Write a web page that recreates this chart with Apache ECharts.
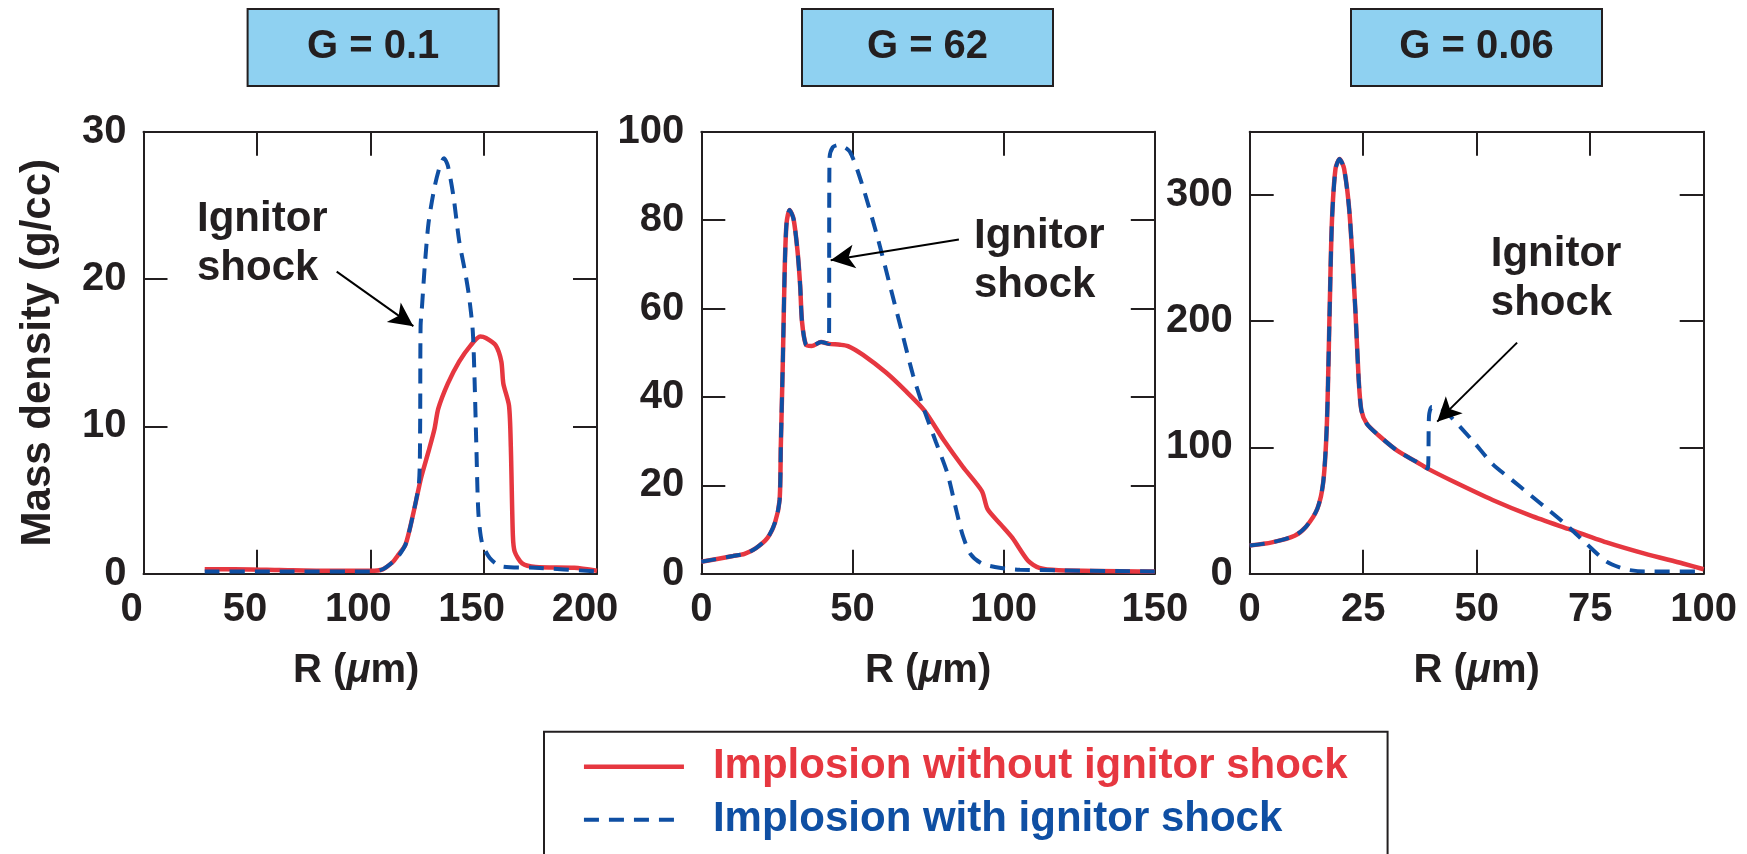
<!DOCTYPE html>
<html>
<head>
<meta charset="utf-8">
<script src="https://cdn.jsdelivr.net/npm/echarts@6/dist/echarts.min.js"></script>
<style>
html,body{margin:0;padding:0;background:#fff;}
#c{width:1747px;height:854px;}
</style>
</head>
<body>
<div id="c"></div>
<script>
// ---------- data ----------
const panelTitles = ['G = 0.1', 'G = 62', 'G = 0.06'];
const seriesNames = ['Implosion without ignitor shock', 'Implosion with ignitor shock'];
const xAxisTitle = 'R ({i|μ}m)';
const yAxisTitle = 'Mass density (g/cc)';
const annotationText = 'Ignitor\nshock';

// Panel 1 (G = 0.1)
const r1Red = [27, 40, 60, 80, 100, 105.5, 110, 112, 115.6, 119, 122.4, 125.7, 128.3, 130, 134.2, 139.2, 144.3, 148.5, 151, 155.3, 157.8, 158.7, 161.2, 162, 162.9, 163.7, 167, 173, 190, 200];
const d1Red = [0.3, 0.3, 0.25, 0.2, 0.2, 0.3, 0.8, 1.2, 2.0, 4.1, 6.5, 8.3, 9.8, 11.2, 12.9, 14.4, 15.5, 16.1, 16.0, 15.5, 14.4, 12.9, 11.4, 8.6, 2.6, 1.5, 0.7, 0.45, 0.4, 0.2];
const r1Blue = [27, 60, 100, 105.5, 110, 112, 115.6, 119, 121.5, 122.0, 122.2, 122.9, 124, 125.7, 128.3, 130.8, 132.5, 134.2, 136.7, 139.2, 141.8, 143.5, 145.2, 146, 146.8, 147.7, 149.3, 152.7, 157.8, 173, 200];
const d1Blue = [0.15, 0.15, 0.15, 0.3, 0.8, 1.1, 2.0, 4.1, 6.2, 10, 16.8, 18.3, 20.8, 23.8, 26.2, 27.7, 28.2, 27.7, 25.6, 22.6, 20.5, 18.9, 16.5, 13.2, 8.6, 4.1, 2.1, 1.06, 0.5, 0.4, 0.15];

// Panel 2 (G = 62)
const r2Red = [0, 10.5, 14.3, 18.1, 21.9, 24.4, 25.9, 26.3, 27, 27.6, 28.2, 29.2, 30.5, 31.8, 32.7, 33.3, 34.6, 36.5, 39.6, 42.2, 45.9, 48.5, 53.5, 61.1, 67.5, 73.8, 80.1, 86.5, 92.8, 94.7, 99.1, 102.9, 108, 111.8, 118.1, 150];
const d2Red = [2.7, 4.0, 4.5, 5.8, 8.1, 11.6, 16.7, 28.8, 49, 69.2, 79.3, 82.3, 80.3, 73.2, 65.2, 57.1, 51.8, 51.5, 52.4, 52, 51.8, 51.5, 49.5, 45.5, 41.4, 36.9, 30.3, 24.2, 18.7, 14.6, 11.1, 8.1, 3.0, 1.3, 0.8, 0.5];
const r2Blue = [0, 10.5, 14.3, 18.1, 21.9, 24.4, 25.9, 26.3, 27, 27.6, 28.2, 29.2, 30.5, 31.8, 32.7, 33.3, 34.6, 36.5, 39.6, 42.2, 42.4, 43.5, 45.3, 49.1, 53.5, 58.6, 62.4, 66.2, 70, 73.8, 77.6, 81.4, 84.6, 86.5, 89, 92.8, 99.1, 105.4, 150];
const d2Blue = [2.7, 4.0, 4.5, 5.8, 8.1, 11.6, 16.7, 28.8, 49, 69.2, 79.3, 82.3, 80.3, 73.2, 65.2, 57.1, 51.8, 51.5, 52.4, 52, 94, 96.5, 97, 95.5, 87.4, 75.3, 65.2, 55.1, 45, 36.9, 29.8, 22.7, 13.6, 8.6, 4.5, 2.3, 1.3, 0.9, 0.5];

// Panel 3 (G = 0.06)
const r3Red = [0, 4.9, 9.9, 12.4, 14.9, 16.2, 17, 17.6, 18.1, 18.9, 19.8, 20.8, 22, 23.3, 24, 24.6, 25.8, 28.3, 32.5, 36.7, 39.2, 45.1, 53.5, 61.9, 70.2, 78.6, 87, 95.4, 100];
const d3Red = [22.3, 24.8, 30.1, 37.2, 51.4, 72.6, 118.7, 207, 278, 320.6, 328.4, 320.6, 285, 207, 154, 129.3, 118.7, 109.8, 97.4, 88.6, 83.2, 72.6, 58.4, 46, 35.4, 24.8, 15.9, 8.1, 3.5];
const r3Blue = [0, 4.9, 9.9, 12.4, 14.9, 16.2, 17, 17.6, 18.1, 18.9, 19.8, 20.8, 22, 23.3, 24, 24.6, 25.8, 28.3, 32.5, 36.7, 39.2, 39.5, 40.1, 41.7, 43.4, 49.3, 53.5, 57.7, 61.9, 66.1, 70.2, 74.4, 78.6, 82.8, 87, 100];
const d3Blue = [22.3, 24.8, 30.1, 37.2, 51.4, 72.6, 118.7, 207, 278, 320.6, 328.4, 320.6, 285, 207, 154, 129.3, 118.7, 109.8, 97.4, 88.6, 83.2, 125, 132, 131, 127.5, 104.5, 86.8, 74.4, 62, 49.6, 37.2, 23, 9.6, 3.5, 1.8, 1.8];

// Axis ranges / ticks
const xMin = [0, 0, 0];
const xMax = [200, 150, 100];
const xStep = [50, 50, 25];
const yMin = [0, 0, 0];
const yMax = [30, 100, 350];
const yStep = [10, 20, 100];

// Annotation anchors (data coords): text top-left, arrow tail, arrow tip
const noteText = [[23.6, 25.7], [90.2, 81.8], [53.1, 272]];
const arrowTail = [[85.2, 20.5], [85.2, 75.6], [58.9, 183]];
const arrowTip = [[119, 16.8], [42.8, 70.9], [41.3, 120.4]];

// ---------- styles ----------
const FONT = "'Liberation Sans', Arial, Helvetica, sans-serif";
const INK = '#231f20';
const RED = '#e63740';
const BLUE = '#0f4fa3';
const TITLE_BG = '#8fd1f1';

const gridPos = [
  {left: 143.5, top: 131.7, width: 453.5, height: 442},
  {left: 701.3, top: 131.7, width: 453.5, height: 442},
  {left: 1249.7, top: 131.7, width: 454, height: 442}
];
const titleLeft = [247.6, 802, 1351];

const zip = (a, b) => a.map((v, i) => [v, b[i]]);
const redData = [zip(r1Red, d1Red), zip(r2Red, d2Red), zip(r3Red, d3Red)];
const blueData = [zip(r1Blue, d1Blue), zip(r2Blue, d2Blue), zip(r3Blue, d3Blue)];

const axisLine = {show: true, onZero: false, lineStyle: {color: INK, width: 2}};
const axisTick = {show: true, inside: true, length: 24, lineStyle: {color: INK, width: 2}};
const labelStyle = {fontFamily: FONT, fontSize: 40, fontWeight: 'bold', color: INK};

const grids = [], xAxes = [], yAxes = [], series = [], titles = [];
for (let p = 0; p < 3; p++) {
  grids.push(Object.assign({show: false, outerBoundsMode: 'none', containLabel: false}, gridPos[p]));
  titles.push({
    text: '{b|' + panelTitles[p] + '}',
    left: titleLeft[p], top: 8.9, padding: 0,
    backgroundColor: TITLE_BG, borderColor: INK, borderWidth: 2,
    textStyle: {rich: {b: {width: 251, height: 77, lineHeight: 77, align: 'center', verticalAlign: 'middle',
      fontFamily: FONT, fontSize: 40, fontWeight: 'bold', color: INK}}}
  });
  // bottom x axis
  xAxes.push({
    type: 'value', gridIndex: p, position: 'bottom', min: xMin[p], max: xMax[p], interval: xStep[p],
    axisLine, axisTick, splitLine: {show: false},
    axisLabel: Object.assign({margin: 16, padding: p === 0 ? [0, 24, 0, 0] : 0}, labelStyle),
    name: xAxisTitle, nameLocation: 'middle', nameGap: 77,
    nameTextStyle: Object.assign({padding: p === 0 ? [0, 28, 0, 0] : 0,
      rich: {i: {fontFamily: FONT, fontSize: 40, fontWeight: 'bold', fontStyle: 'italic', color: INK}}}, labelStyle)
  });
  // top x axis (frame + ticks)
  xAxes.push({
    type: 'value', gridIndex: p, position: 'top', min: xMin[p], max: xMax[p], interval: xStep[p],
    axisLine, axisTick, splitLine: {show: false}, axisLabel: {show: false}
  });
  // left y axis
  yAxes.push({
    type: 'value', gridIndex: p, position: 'left', min: yMin[p], max: yMax[p], interval: yStep[p],
    axisLine, axisTick, splitLine: {show: false},
    axisLabel: Object.assign({margin: 17, showMaxLabel: p !== 2}, labelStyle),
    name: p === 0 ? yAxisTitle : '', nameLocation: 'middle', nameGap: 84, nameRotate: 90,
    nameTextStyle: Object.assign({}, labelStyle, {fontSize: 42})
  });
  // right y axis
  yAxes.push({
    type: 'value', gridIndex: p, position: 'right', min: yMin[p], max: yMax[p], interval: yStep[p],
    axisLine, axisTick, splitLine: {show: false}, axisLabel: {show: false}
  });
  series.push({
    name: seriesNames[0], type: 'line', xAxisIndex: 2 * p, yAxisIndex: 2 * p,
    data: redData[p], symbol: 'none', smooth: 0.25, z: 2,
    itemStyle: {color: RED},
    lineStyle: {color: RED, width: 4.5}
  });
  series.push({
    name: seriesNames[1], type: 'line', xAxisIndex: 2 * p, yAxisIndex: 2 * p,
    data: blueData[p], symbol: 'none', smooth: 0.25, z: 3,
    itemStyle: {color: BLUE},
    lineStyle: {color: BLUE, width: 4, type: [15, 10]},
    markLine: {
      silent: true, symbol: ['none', 'arrow'], symbolSize: [18, 24],
      lineStyle: {color: '#000', width: 2, type: 'solid'},
      label: {show: false},
      data: [[{coord: arrowTail[p]}, {coord: arrowTip[p]}]]
    },
    markPoint: {
      silent: true, symbol: 'circle', symbolSize: 0,
      label: {show: true, position: [0, 0], align: 'left', verticalAlign: 'top',
        formatter: annotationText, fontFamily: FONT, fontSize: 42, fontWeight: 'bold',
        lineHeight: 49, color: INK},
      data: [{coord: noteText[p]}]
    }
  });
}

const chart = echarts.init(document.getElementById('c'), null, {renderer: 'canvas'});
chart.setOption({
  backgroundColor: '#fff',
  animation: false,
  title: titles,
  grid: grids,
  xAxis: xAxes,
  yAxis: yAxes,
  legend: {
    show: true, orient: 'vertical', left: 544, top: 731.7, height: 400, selectedMode: false,
    padding: [11, 40, 40, 37.7], borderColor: INK, borderWidth: 2, backgroundColor: '#fff',
    itemWidth: 100, itemHeight: 14, itemGap: 5,
    itemStyle: {opacity: 0},
    lineStyle: {width: 'inherit'},
    textStyle: {fontFamily: FONT, fontSize: 42, fontWeight: 'bold', lineHeight: 48, padding: [0, 0, 0, 24]},
    data: [
      {name: seriesNames[0], textStyle: {color: RED}},
      {name: seriesNames[1], textStyle: {color: BLUE}}
    ]
  },
  series
});
</script>
</body>
</html>
